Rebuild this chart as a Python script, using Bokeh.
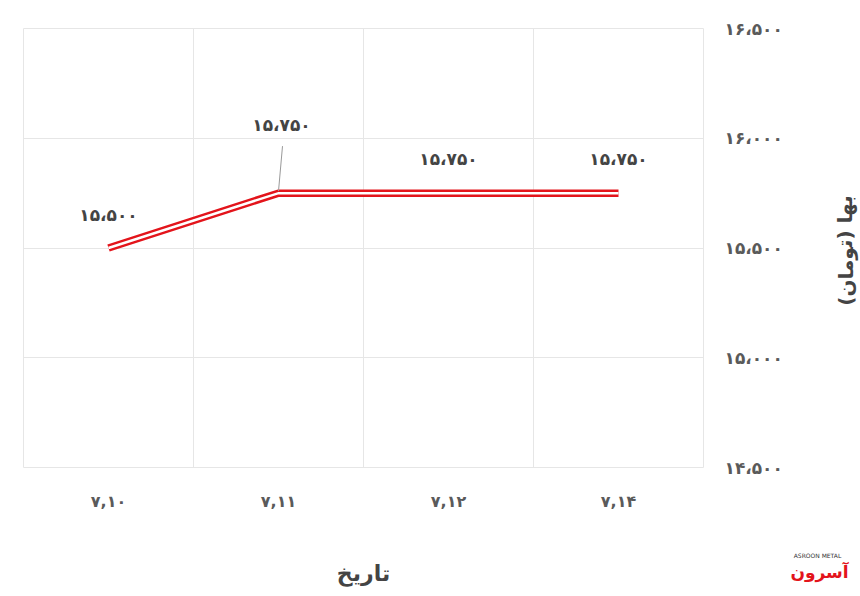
from bokeh.plotting import figure
from bokeh.layouts import row
from bokeh.models import Range1d, FixedTicker, ColumnDataSource, LabelSet, Label
from bokeh.embed import file_html
from bokeh.resources import INLINE
from bokeh.core.properties import value

# ---- data ----
dates = ["۷,۱۰", "۷,۱۱", "۷,۱۲", "۷,۱۴"]
prices = [15500, 15750, 15750, 15750]
price_labels = ["۱۵،۵۰۰", "۱۵،۷۵۰", "۱۵،۷۵۰", "۱۵،۷۵۰"]
y_ticks = [14500, 15000, 15500, 16000, 16500]
y_tick_labels = ["۱۴،۵۰۰", "۱۵،۰۰۰", "۱۵،۵۰۰", "۱۶،۰۰۰", "۱۶،۵۰۰"]
y_title = "بها (تومان)"
x_title = "تاریخ"
brand = "آسرون"
brand_latin = "ASROON METAL"

FONT = "DejaVu Sans"
RED = "#e3141b"
TXT = "#444444"
TICK = "#5a5a5a"

xs = [i + 0.5 for i in range(len(dates))]
ymin, ymax = y_ticks[0], y_ticks[-1]
FH = 439
H = 588
RB = 80
units_per_px = (ymax - ymin) / FH

p = figure(frame_width=680, frame_height=FH,
           min_border_left=23, min_border_right=RB,
           min_border_top=28, min_border_bottom=121,
           x_range=Range1d(0, len(dates)), y_range=Range1d(ymin, ymax),
           y_axis_location="right",
           output_backend="svg", toolbar_location=None)
p.background_fill_color = "white"
p.border_fill_color = "white"
p.outline_line_color = "#e6e6e6"
p.frame_align = False

# grids
p.xgrid.ticker = FixedTicker(ticks=list(range(len(dates) + 1)))
p.xgrid.grid_line_color = "#e6e6e6"
p.ygrid.grid_line_color = "#e6e6e6"

# x axis
xa = p.xaxis[0]
xa.ticker = FixedTicker(ticks=xs)
xa.major_label_overrides = {x: d for x, d in zip(xs, dates)}
xa.axis_line_color = None
xa.major_tick_line_color = None
xa.minor_tick_line_color = None
xa.major_tick_out = 0
xa.major_label_standoff = 24
xa.major_label_text_font = FONT
xa.major_label_text_font_size = "16px"
xa.major_label_text_font_style = "bold"
xa.major_label_text_color = TICK
xa.axis_label = x_title
xa.axis_label_text_font = FONT
xa.axis_label_text_font_size = "22px"
xa.axis_label_text_font_style = "bold"
xa.axis_label_text_color = TXT
xa.axis_label_standoff = 47

# y axis
ya = p.yaxis[0]
ya.ticker = FixedTicker(ticks=y_ticks)
ya.major_label_overrides = {t: l for t, l in zip(y_ticks, y_tick_labels)}
ya.axis_line_color = None
ya.major_tick_line_color = None
ya.minor_tick_line_color = None
ya.major_tick_out = 0
ya.major_label_standoff = 21
ya.major_label_text_font = FONT
ya.major_label_text_font_size = "17px"
ya.major_label_text_font_style = "bold"
ya.major_label_text_color = TICK

# double red line
p.line(xs, prices, line_color=RED, line_width=7.5, line_join="miter")
p.line(xs, prices, line_color="white", line_width=2.5, line_join="miter")

# leader line for second label
i = 1
p.segment(x0=[xs[i]], y0=[prices[i] + 2 * units_per_px],
          x1=[xs[i] + 4 / 170], y1=[prices[i] + 47 * units_per_px],
          line_color="#999999", line_width=1)

# data labels
src = ColumnDataSource(dict(x=xs, y=prices, t=price_labels,
                            xo=[0, 3, 0, 0], yo=[33, 68, 34, 34]))
p.add_layout(LabelSet(x="x", y="y", text="t", source=src,
                      x_offset="xo", y_offset="yo",
                      text_align="center", text_baseline="middle",
                      text_font=value(FONT), text_font_size="17px",
                      text_font_style="bold", text_color=TXT))

# side panel holding the vertical axis title and the brand mark
X0 = 23 + 680 + RB
W2 = 860 - X0
p2 = figure(width=W2, height=H, x_range=Range1d(0, W2), y_range=Range1d(0, H),
            min_border=0, output_backend="svg", toolbar_location=None)
p2.frame_align = False
p2.title.visible = False
p2.axis.visible = False
p2.grid.visible = False
p2.outline_line_color = None
p2.background_fill_color = "white"
p2.border_fill_color = "white"

p2.add_layout(Label(x=843 - X0, y=H - 250, text=y_title, angle=1.5708,
                    text_align="center", text_baseline="middle",
                    text_font=FONT, text_font_size="20px",
                    text_font_style="bold", text_color=TXT))
p2.add_layout(Label(x=817 - X0, y=H - 571, text=brand,
                    text_align="center", text_baseline="middle",
                    text_font=FONT, text_font_size="17px",
                    text_font_style="bold", text_color=RED))
p2.add_layout(Label(x=815 - X0, y=H - 555, text=brand_latin,
                    text_align="center", text_baseline="middle",
                    text_font=FONT, text_font_size="6px",
                    text_color="#333333"))

layout = row(p, p2, spacing=0)
open("out.html", "w").write(file_html(layout, INLINE))
